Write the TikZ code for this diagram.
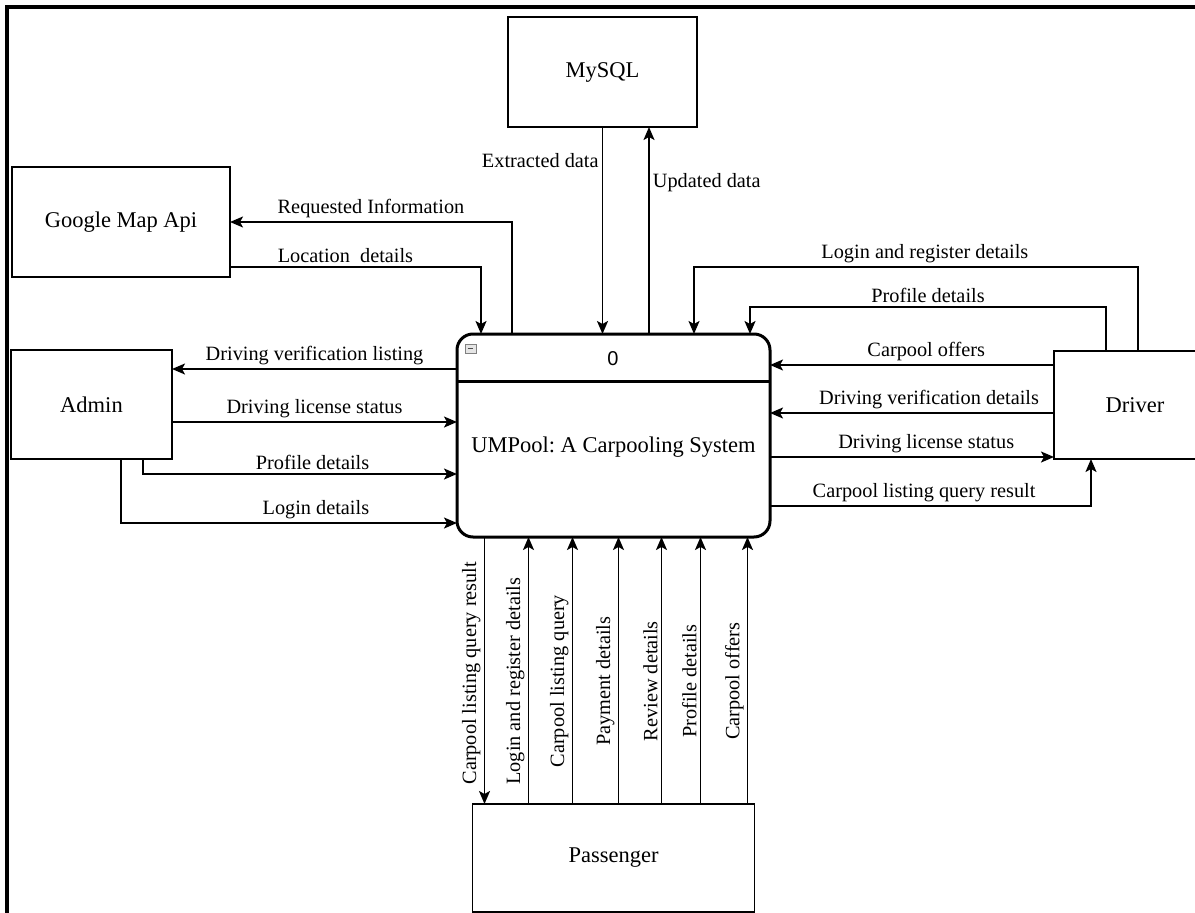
\documentclass[tikz,border=0pt]{standalone}
\usepackage{fontspec}
\setmainfont{Liberation Serif}
\setsansfont{Liberation Sans}
\usetikzlibrary{arrows.meta, positioning}
\frenchspacing

\begin{document}
\begin{tikzpicture}[
    x=1pt, y=-1pt,
    entity/.style={rectangle, draw, line width=1.8pt, fill=white, inner sep=0pt, outer sep=0pt, font=\fontsize{22.5}{27}\selectfont},
    process/.style={rectangle, draw, line width=3pt, rounded corners=16pt, fill=white, inner sep=0pt, outer sep=0pt, minimum width=313pt, minimum height=203pt},
    flow/.style={-{Stealth[length=13pt, width=11pt, inset=3pt]}, line width=1.8pt},
    lbl/.style={font=\fontsize{20.3}{24}\selectfont, inner sep=3pt}
]
    \useasboundingbox (0,0) rectangle (1195,913);
    \clip (0,0) rectangle (1195,913);
    \fill[white] (0,0) rectangle (1195,913);
    \draw[line width=3.5pt] (7,913) -- (7,7) -- (1195,7);

    % system process
    \node[process] (proc) at (613.5,435.5) {};
    \draw[line width=3pt] ([yshift=-47pt]proc.north west) -- ([yshift=-47pt]proc.north east);
    \node[draw=gray, fill=gray!20, line width=0.8pt, minimum width=11pt, minimum height=9pt, inner sep=0pt] (toggle) at (470.5,348.5) {};
    \draw[line width=1.2pt, black!70] ([xshift=3pt]toggle.west) -- ([xshift=-3pt]toggle.east);
    \node[font=\sffamily\fontsize{20}{24}\selectfont] (procid) at (613,359) {0};
    \node[font=\fontsize{22.5}{27}\selectfont] (proctitle) at ([yshift=-11.5pt]proc.center) {UMPool: A Carpooling System};

    % external entities
    \node[entity, minimum width=218pt, minimum height=110pt] (gmap) at (121,222) {Google Map Api};
    \node[entity, minimum width=189pt, minimum height=110pt] (mysql) at (602.5,72) {MySQL};
    \node[entity, minimum width=161pt, minimum height=109pt] (admin) at (91.5,404.5) {Admin};
    \node[entity, minimum width=162pt, minimum height=108pt] (driver) at (1135,405) {Driver};
    \node[entity, minimum width=282pt, minimum height=108pt, below=267pt of proc] (passenger) {Passenger};

    % map api and database
    \draw[flow] ([xshift=55pt]proc.north west) |- node[lbl, above, pos=0.75] {Requested Information} (gmap.east);
    \draw[flow] ([yshift=10pt]gmap.south east) -| node[lbl, above, pos=0.23] {Location\ \ details} ([xshift=24pt]proc.north west);
    \draw[flow] (mysql.south) -- node[lbl, left, pos=0.16] {Extracted data} (mysql.south |- proc.north);
    \coordinate (upd) at ([xshift=46.5pt]mysql.south);
    \draw[flow] (upd |- proc.north) -- node[lbl, right, pos=0.73] {Updated data} (upd);

    % admin
    \coordinate (ad1) at ([yshift=-19pt]admin.north east);
    \coordinate (ad2) at ([yshift=-72pt]admin.north east);
    \draw[flow] (ad1 -| proc.west) -- node[lbl, above] {Driving verification listing} (ad1);
    \draw[flow] (ad2) -- node[lbl, above] {Driving license status} (ad2 -| proc.west);
    \draw[flow] ([xshift=51.5pt]admin.south) |- node[lbl, above, pos=0.77] {Profile details} ([yshift=-38.5pt]proc.west);
    \draw[flow] ([xshift=29.5pt]admin.south) |- node[lbl, above, pos=0.79] {Login details} ([yshift=-87.5pt]proc.west);

    % driver
    \draw[flow] ([xshift=3pt]driver.north) -- ++(0,-84) -| node[lbl, above, pos=0.24] {Login and register details} ([xshift=237pt]proc.north west);
    \draw[flow] ([xshift=-29pt]driver.north) -- ++(0,-44) -| node[lbl, above, pos=0.25] {Profile details} ([xshift=293pt]proc.north west);
    \coordinate (dr1) at ([yshift=-14pt]driver.north west);
    \coordinate (dr2) at ([yshift=-62pt]driver.north west);
    \coordinate (dr3) at ([yshift=2pt]driver.south west);
    \draw[flow] (dr1) -- node[lbl, above, pos=0.45] {Carpool offers} (dr1 -| proc.east);
    \draw[flow] (dr2) -- node[lbl, above, pos=0.44] {Driving verification details} (dr2 -| proc.east);
    \draw[flow] (dr3 -| proc.east) -- node[lbl, above, pos=0.55] {Driving license status} (dr3);
    \draw[flow] ([yshift=-70.5pt]proc.east) -| node[lbl, above, pos=0.24] {Carpool listing query result} ([xshift=-44pt]driver.south);

    % passenger
    \coordinate (pout) at ([xshift=12pt]passenger.north west);
    \draw[flow] (pout |- proc.south) -- node[lbl, rotate=90, anchor=south, pos=0.51] {Carpool listing query result} (pout);
    \foreach \dx/\txt in {56/Login and register details, 100/Carpool listing query, 146/Payment details, 189/Review details, 228/Profile details, 275/Carpool offers}
        \draw[flow] ([xshift=\dx pt]passenger.north west) coordinate (pin) -- node[lbl, rotate=90, anchor=south, pos=0.46] {\txt} (pin |- proc.south);
\end{tikzpicture}
\end{document}
